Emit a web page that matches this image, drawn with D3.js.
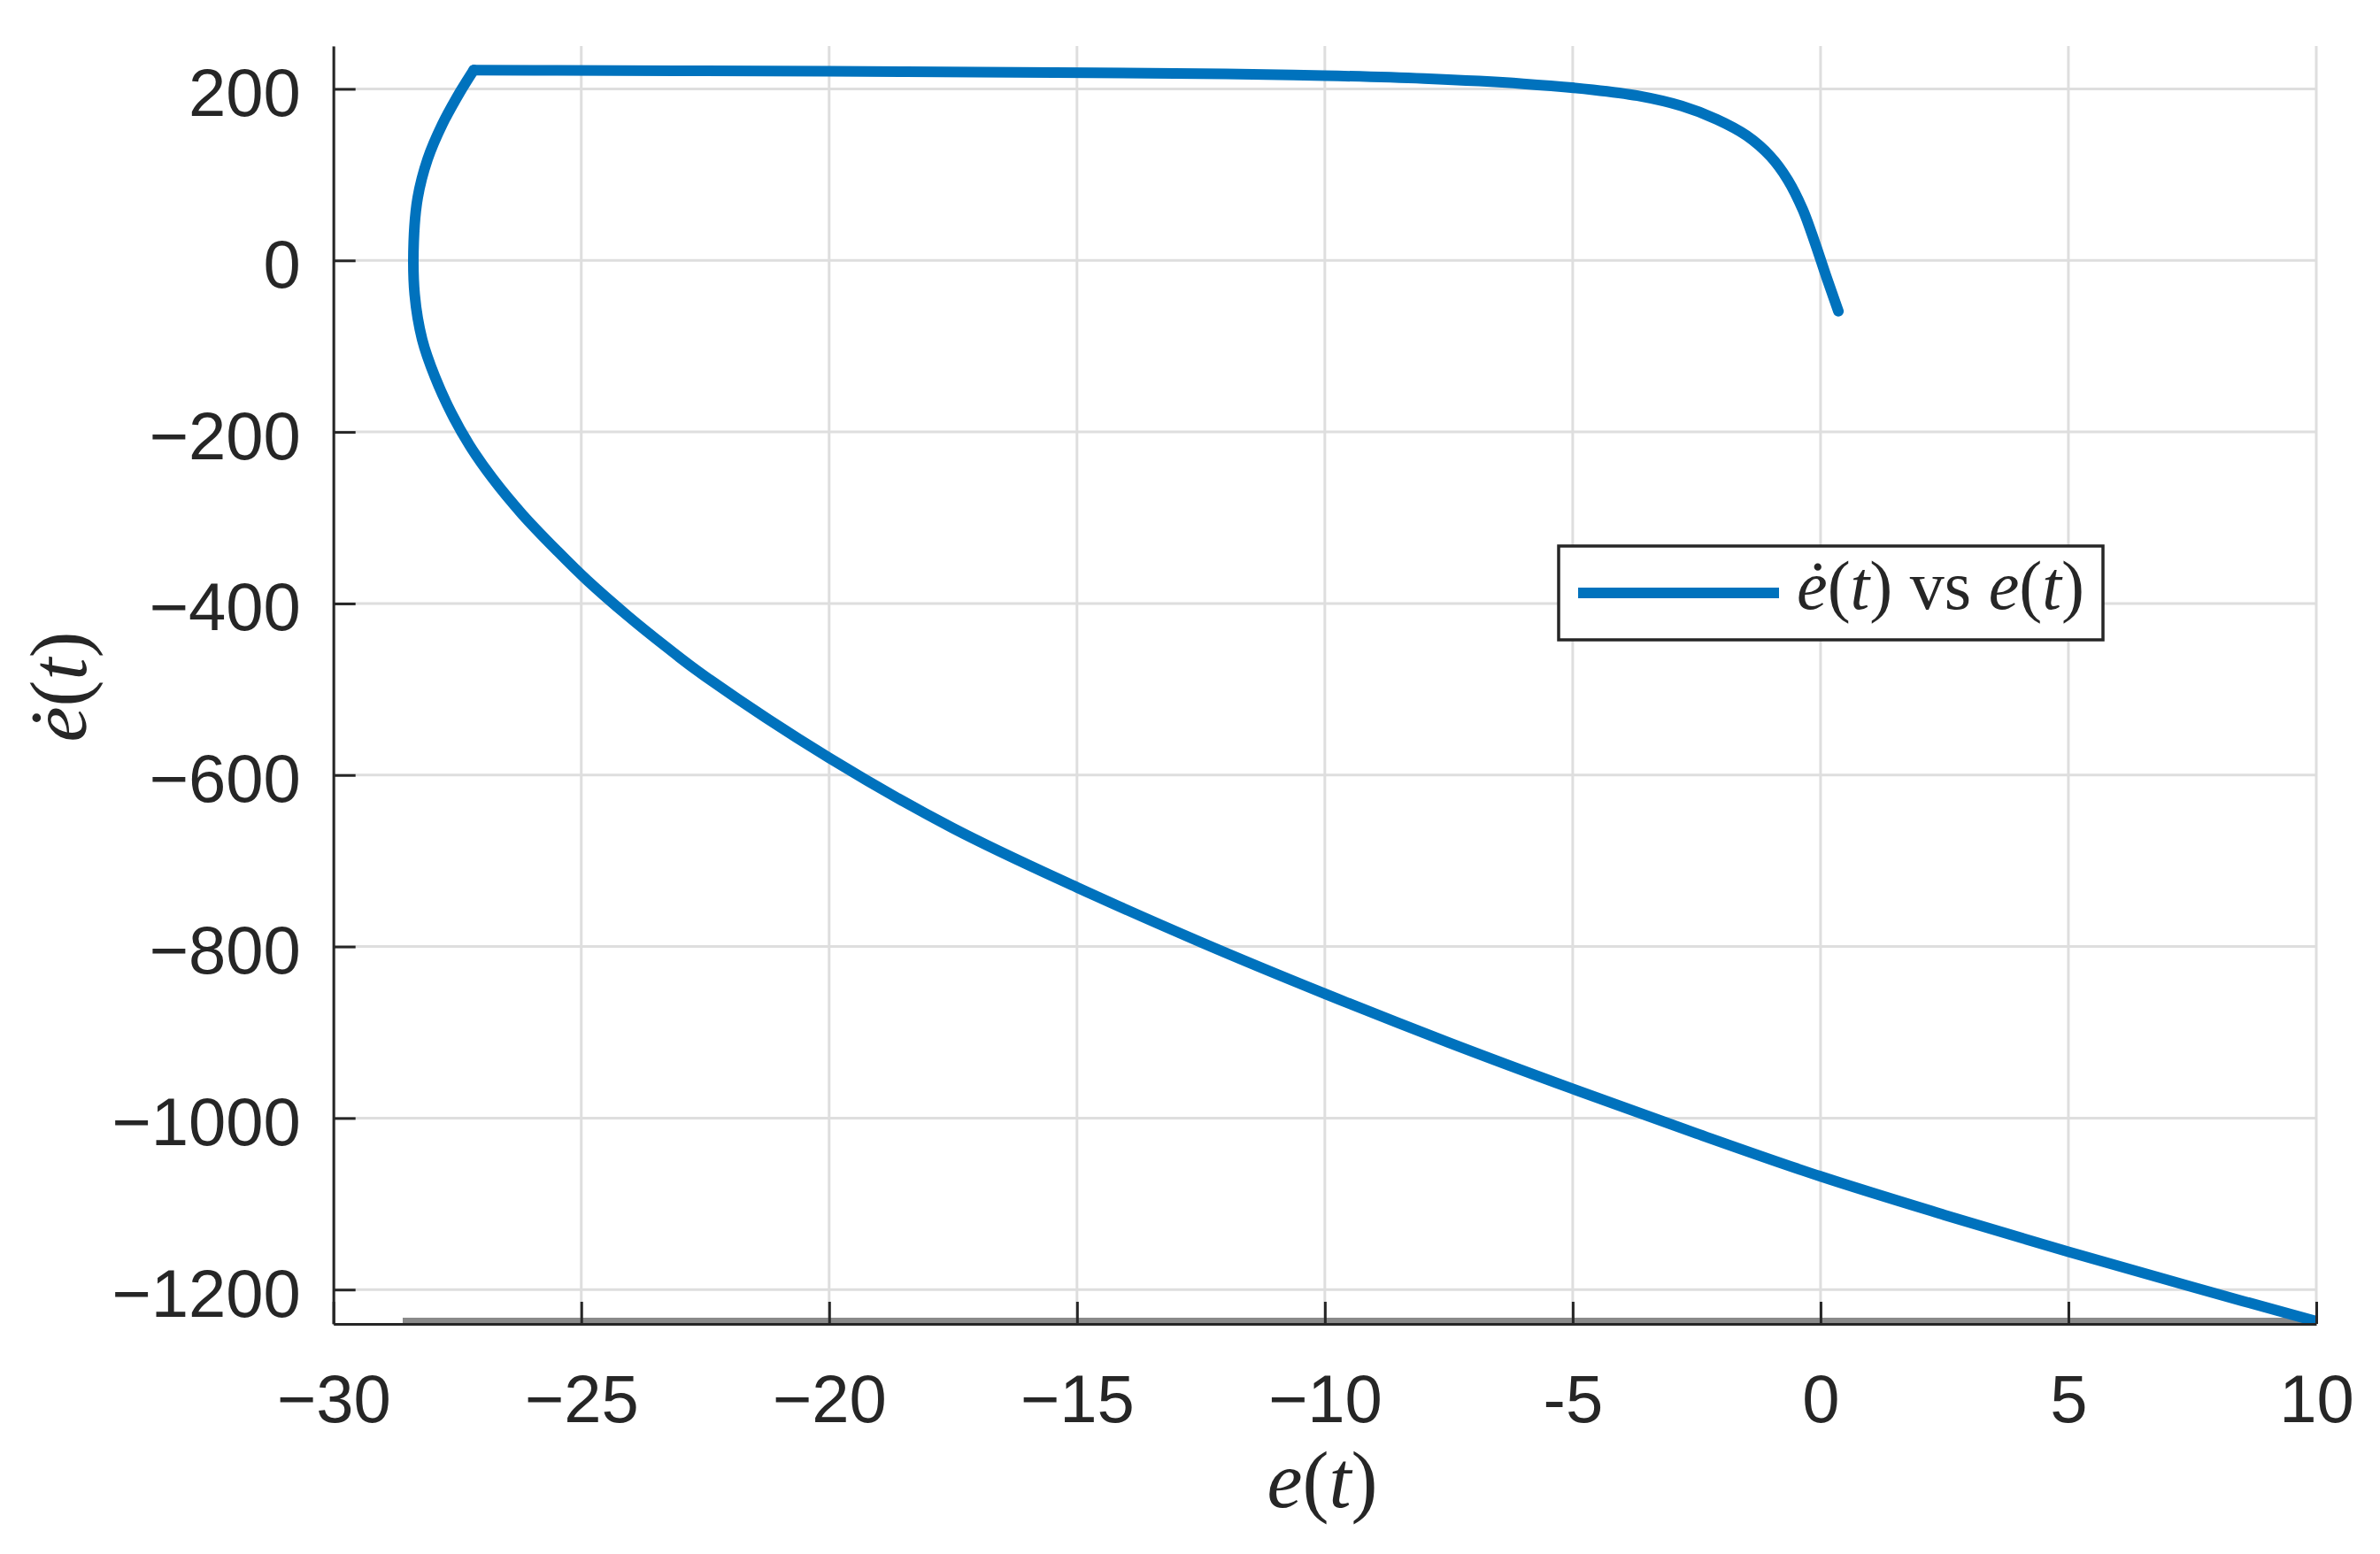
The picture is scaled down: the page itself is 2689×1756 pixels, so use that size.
<!DOCTYPE html>
<html><head><meta charset="utf-8">
<script src="https://cdn.jsdelivr.net/npm/d3@7"></script>
<style>body{margin:0;background:#fff}</style>
</head><body><svg id="c" width="2689" height="1756" xmlns="http://www.w3.org/2000/svg"></svg>
<script>
// ---- data ----
const eVals = [10, 7.5, 5, 2.5, 0, -2.5, -5, -7.5, -10, -12.5, -15, -17.5, -20, -22.5, -23.3, -24.05, -24.88, -25.48, -26.19, -26.79, -27.26,
  -27.62, -27.95, -28.21, -28.36, -28.38, -28.30, -28.10, -27.80, -27.44, -27.17,
  -25.48, -20, -17, -12, -10, -8, -6, -4.59, -3.69, -2.80, -2.09, -1.49, -1.01, -0.66, -0.36, -0.12, 0.12, 0.36];
const eDotVals = [-1237, -1197, -1156, -1113, -1068, -1018, -966, -912, -855, -795, -731, -662, -580, -485, -450, -415, -373, -339, -296, -254, -215,
  -178, -136, -92, -40, 22, 73, 118, 159, 197, 222,
  221.5, 220.5, 219.5, 217.5, 215.5, 212, 206, 199, 192, 180, 164.4, 145.5, 121.3, 93.9, 59.4, 21.7, -19.6, -59.2];
const xTicks = [-30, -25, -20, -15, -10, -5, 0, 5, 10];
const xTickLabels = ["\u221230", "\u221225", "\u221220", "\u221215", "\u221210", "-5", "0", "5", "10"];
const yTicks = [-1200, -1000, -800, -600, -400, -200, 0, 200];
const yTickLabels = ["\u22121200", "\u22121000", "\u2212800", "\u2212600", "\u2212400", "\u2212200", "0", "200"];
const xDomain = [-30, 10];
const yDomain = [-1240, 250];
const seriesName = "vs";

// ---- layout ----
const svg = d3.select("#c");
const L = 376.7, R = 2617, T = 52, B = 1496;
const x = d3.scaleLinear().domain(xDomain).range([L, R]);
const y = d3.scaleLinear().domain(yDomain).range([B, T]);
const ink = "#262626", blue = "#0072BD";
const data = eVals.map((e, i) => ({e, v: eDotVals[i]}));

svg.append("rect").attr("width", 2689).attr("height", 1756).attr("fill", "#fff");

// grid
const grid = svg.append("g");
grid.selectAll("line.gx").data(xTicks).join("line")
  .attr("x1", d => x(d)).attr("x2", d => x(d)).attr("y1", T).attr("y2", B)
  .attr("stroke", "#dedede").attr("stroke-width", 3);
grid.selectAll("line.gy").data(yTicks).join("line")
  .attr("x1", L).attr("x2", R).attr("y1", d => y(d)).attr("y2", d => y(d))
  .attr("stroke", "#dedede").attr("stroke-width", 3);

// grey band along bottom axis
svg.append("rect").attr("x", 455).attr("y", B - 7).attr("width", R - 455).attr("height", 6).attr("fill", "#8a8a8a");

// curve
svg.append("clipPath").attr("id", "clip").append("rect")
  .attr("x", L).attr("y", T).attr("width", R - L).attr("height", B - T);
const k = d3.maxIndex(data, d => d.v);
const line = d3.line().x(d => x(d.e)).y(d => y(d.v)).curve(d3.curveCatmullRom.alpha(0.5));
const cg = svg.append("g").attr("clip-path", "url(#clip)");
[data.slice(0, k + 1), data.slice(k)].forEach(seg => {
  cg.append("path").attr("d", line(seg)).attr("fill", "none").attr("stroke", blue)
    .attr("stroke-width", 12).attr("stroke-linecap", "round").attr("stroke-linejoin", "round");
});

// axes
const xAxis = d3.axisBottom(x).tickValues(xTicks).tickFormat((d, i) => xTickLabels[i])
  .tickSizeInner(-25).tickSizeOuter(0).tickPadding(0);
const gx = svg.append("g").attr("transform", `translate(0,${B})`).call(xAxis);
gx.select(".domain").attr("stroke", ink).attr("stroke-width", 3);
gx.selectAll(".tick line").attr("stroke", ink).attr("stroke-width", 3);
gx.selectAll(".tick text").attr("y", 111).attr("dy", null)
  .attr("font-family", "'Liberation Sans', Arial, Helvetica, sans-serif").attr("font-size", 76).attr("fill", ink);

const yAxis = d3.axisLeft(y).tickValues(yTicks).tickFormat((d, i) => yTickLabels[i])
  .tickSizeInner(-25).tickSizeOuter(0).tickPadding(0);
const gy = svg.append("g").attr("transform", `translate(${L},0)`).call(yAxis);
gy.select(".domain").attr("stroke", ink).attr("stroke-width", 3);
gy.selectAll(".tick line").attr("stroke", ink).attr("stroke-width", 3);
gy.selectAll(".tick text").attr("x", -37).attr("dy", 30)
  .attr("font-family", "'Liberation Sans', Arial, Helvetica, sans-serif").attr("font-size", 76).attr("fill", ink);

// axis titles (math style)
function mathText(sel, parts) {
  parts.forEach(p => sel.append("tspan").text(p[0]).attr("font-style", p[1] ? "italic" : "normal"));
}
const serif = "'Liberation Serif', 'Times New Roman', serif";
const xt = svg.append("text").attr("x", 1494).attr("y", 1703).attr("text-anchor", "middle")
  .attr("font-family", serif).attr("font-size", 90).attr("fill", ink);
mathText(xt, [["e", 1], ["(", 0], ["t", 1], [")", 0]]);
const yt = svg.append("text").attr("transform", "translate(97,776) rotate(-90)").attr("text-anchor", "middle")
  .attr("font-family", serif).attr("font-size", 90).attr("fill", ink);
mathText(yt, [["\u0117", 1], ["(", 0], ["t", 1], [")", 0]]);

// legend
const lg = svg.append("g");
lg.append("rect").attr("x", 1761).attr("y", 617).attr("width", 615).attr("height", 106)
  .attr("fill", "#fff").attr("stroke", ink).attr("stroke-width", 3.5);
lg.append("line").attr("x1", 1783).attr("x2", 2010).attr("y1", 670).attr("y2", 670)
  .attr("stroke", blue).attr("stroke-width", 12);
const lt = lg.append("text").attr("x", 2030).attr("y", 688)
  .attr("font-family", serif).attr("font-size", 78).attr("fill", ink);
mathText(lt, [["\u0117", 1], ["(", 0], ["t", 1], [")", 0], [" " + seriesName + " ", 0], ["e", 1], ["(", 0], ["t", 1], [")", 0]]);
</script>
</body></html>
